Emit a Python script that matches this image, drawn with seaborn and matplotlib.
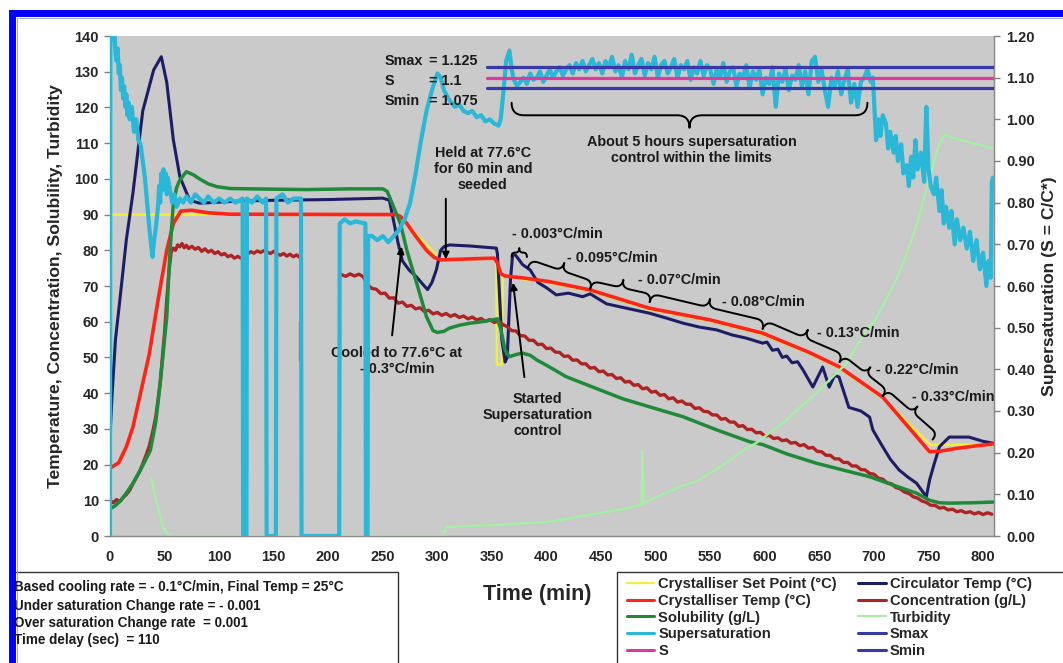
import numpy as np
import pandas as pd
import matplotlib
matplotlib.use("Agg")
import matplotlib.pyplot as plt
import seaborn as sns
from matplotlib.patches import Rectangle
from matplotlib.lines import Line2D

sns.set_style("white")
plt.rcParams['font.family'] = ['Liberation Sans', 'DejaVu Sans']
plt.rcParams['font.weight'] = 'bold'
plt.rcParams['axes.labelweight'] = 'bold'

# ---------------- data (time in min, value) ----------------
setpoint = [(0, 90), (262, 90), (266, 89), (303, 77.6), (354, 77.6), (354.5, 48), (359, 48), (360, 73),
            (380, 71.8), (403, 70.9), (440, 68.6), (494, 63.5), (550, 60.2), (598, 56.5), (640, 51.2),
            (668, 47.1), (708, 38.6), (752, 25.5), (810, 25.5)]

circulator = [(0, 28), (2, 40), (5, 55), (9, 66), (15, 83), (21, 96), (30, 119), (40, 130.5), (47, 134.2),
              (52, 127), (58, 111), (64, 100.6), (73, 94), (82, 93.2), (120, 93.8), (150, 94), (200, 94.2),
              (250, 94.6), (256, 94), (260, 88), (264, 82), (268, 77), (274, 74.5), (281, 72.5), (288, 70),
              (291, 69), (295, 71), (299, 74.5), (303, 80), (306, 81), (311, 81.5), (330, 81.2), (354, 80.6),
              (355, 79), (359, 55), (362, 48.7), (364, 50), (367, 72), (369, 79), (372, 78.5), (378, 76),
              (385, 74.5), (392, 71), (400, 69.5), (409, 67.5), (420, 68), (433, 67), (440, 67.8), (455, 65),
              (470, 64), (494, 62.4), (510, 61), (525, 59.6), (540, 58.5), (556, 57.7), (570, 56.3),
              (583, 55.4), (598, 54), (602, 54.3), (607, 52), (612, 52.3), (616, 50), (620, 50.4),
              (625, 48.5), (630, 48.8), (635, 46.5), (644, 41.7), (653, 47.3), (659, 41.7), (664, 45),
              (668, 44.5), (677, 36), (688, 35), (696, 33.3), (699, 29.7), (708, 25), (715, 21.5),
              (723, 18.5), (731, 16.5), (739, 14.8), (748, 11), (751, 15.7), (755, 20), (760, 25),
              (769, 27.7), (787, 27.7), (800, 26.5), (809, 26)]

cryst_temp = [(0, 19), (8, 20.5), (15, 25), (21, 30.5), (28, 40), (36, 51), (44, 66), (52, 80), (58, 87.5),
              (65, 91), (75, 91.2), (90, 90.5), (110, 90.1), (262, 90), (266, 89.5), (272, 87.5),
              (280, 84), (290, 80), (297, 78), (303, 77.3), (310, 77.4), (330, 77.6), (352, 77.8),
              (355, 76.5), (358, 73.5), (362, 72.8), (380, 72.2), (403, 71.2), (440, 68.9), (494, 63.8),
              (550, 60.5), (598, 56.8), (640, 51.5), (668, 47.4), (708, 38.9), (751, 23.6), (760, 23.7),
              (775, 24.5), (795, 25.3), (810, 25.8)]

conc_a = [(0, 10), (3, 9.3), (6, 10.2), (9, 9.6), (12, 10.8), (15, 11.6), (18, 12.8), (21, 14.6), (24, 16.3),
          (27, 18.0), (30, 20.2), (33, 22.6), (36, 25.2), (39, 29), (42, 33.5), (44, 38), (46, 43), (48, 50),
          (50, 57), (52, 66), (54, 74), (56, 79.5), (58, 80.6), (60, 80.0), (62, 81.5), (64, 81.0),
          (66, 81.9), (68, 80.7), (70, 81.4), (72, 80.5), (75, 81.1), (78, 80.3), (81, 80.8), (84, 79.7),
          (87, 80.4), (90, 79.5), (93, 80.0), (96, 79.1), (99, 79.6), (102, 78.7), (105, 79.1), (108, 78.2),
          (111, 78.6), (114, 77.8), (117, 78.3), (120, 77.8), (123, 78.4), (126, 79.0), (129, 79.6),
          (132, 79.2), (135, 79.8), (138, 79.4), (141, 79.9), (144, 79.5), (147, 79.1), (150, 79.7),
          (153, 79.0), (156, 78.6), (159, 79.1), (162, 78.4), (165, 78.9), (168, 78.2), (171, 78.7),
          (174, 78.0)]
conc_b1 = [(174.5, 60), (174.5, 49)]
conc_b2 = [(211, 49), (211, 60)]
conc_c_start, conc_c_step = 212, 4
conc_c = [73.2, 72.7, 73.4, 72.8, 73.3, 72.6, 70.4, 69.3, 69.1, 67.9, 68.0, 66.6, 66.7, 65.2, 65.5, 64.3,
          64.6, 63.6, 63.9, 62.9, 63.2, 62.2, 62.6, 61.8, 62.3, 61.5, 62.0, 61.2, 61.6, 60.8, 61.3, 60.5,
          60.9, 60.1, 60.6, 59.8, 60.2, 59.2, 58.6, 57.5, 57.4, 56.1, 56.0, 54.8, 54.8, 53.6, 53.7, 52.5,
          52.6, 51.5, 51.4, 50.3, 50.4, 49.2, 49.3, 48.2, 48.2, 47.0, 47.2, 46.0, 46.2, 45.1, 45.2, 44.1,
          44.3, 43.1, 43.3, 42.2, 42.4, 41.2, 41.5, 40.3, 40.5, 39.4, 39.6, 38.4, 38.7, 37.5, 37.8, 36.9,
          36.9, 35.7, 35.9, 34.9, 34.8, 33.9, 33.9, 32.7, 32.9, 31.9, 31.9, 30.7, 30.9, 29.8, 29.9, 28.9,
          29.0, 28.0, 28.2, 27.3, 27.5, 26.7, 26.9, 26.0, 26.2, 25.3, 25.6, 24.6, 24.8, 23.7, 23.6, 22.6,
          22.6, 21.6, 21.6, 20.6, 20.6, 19.6, 19.6, 18.6, 18.5, 17.5, 17.3, 16.2, 15.9, 14.9, 14.6, 13.6,
          13.2, 12.3, 11.9, 11.0, 10.6, 9.8, 9.4, 8.6, 8.6, 7.8, 8.0, 7.3, 7.5, 6.8, 7.1, 6.5, 6.8, 6.2,
          6.6, 6.0, 6.5, 6.1]

solubility = [(0, 7.6), (5, 8.5), (10, 10), (15, 12), (21, 14.8), (28, 18.5), (37, 24), (42, 32),
              (46, 42.8), (49, 52), (52, 61.3), (55, 80), (58, 93), (61, 97.5), (64, 99.7), (70, 102),
              (76, 101.2), (82, 100), (90, 98.6), (98, 97.8), (110, 97.3), (128, 97.2), (180, 97.0),
              (220, 97.2), (250, 97.2), (254, 96.5), (260, 92), (266, 87.6), (272, 80), (281, 70.8),
              (290, 61.4), (296, 57.5), (300, 57.0), (306, 57.3), (311, 58.2), (320, 59), (330, 59.6),
              (341, 60), (350, 60.5), (355, 60.8), (358, 58), (362, 52), (366, 50.2), (372, 50.8),
              (378, 51.2), (385, 50.6), (391, 49.3), (400, 47.8), (418, 44.6), (449, 40.9), (470, 38.4),
              (494, 36.2), (525, 33.4), (556, 29.7), (586, 26.4), (598, 25.6), (620, 23), (647, 20.4),
              (670, 18.6), (696, 16.6), (720, 14), (739, 12), (751, 10), (760, 9.3), (769, 9.2),
              (790, 9.3), (809, 9.5)]

turbidity = [(38, 16), (40, 13), (44, 8), (48, 3), (52, 0.8), (56, 0), (305, 0), (308, 2.5), (330, 2.8),
             (360, 3.2), (403, 4), (440, 6), (470, 7.5), (487, 8.8), (488, 24), (489, 9), (494, 10),
             (520, 13.5), (540, 15.7), (560, 19.5), (583, 24.5), (592, 26), (620, 32.5), (650, 40.9),
             (675, 48.4), (693, 57.7), (700, 60), (710, 65.5), (720, 71.5), (730, 79), (740, 88),
             (748, 97), (755, 105), (760, 110), (765, 112.3), (785, 110.4), (809, 108.6)]

# supersaturation (right axis)
supersat_a = [(0, 0), (0.4, 1.28), (2, 1.24), (3, 1.19), (4, 1.22), (5, 1.16), (6, 1.14), (7, 1.17),
              (8, 1.11), (9, 1.13), (10, 1.07), (11, 1.10), (12, 1.05), (13, 1.08), (14, 1.03), (15, 1.06),
              (16, 1.01), (17, 1.04), (18, 1.00), (20, 1.03), (22, 0.97), (24, 1.00), (26, 0.95),
              (28, 0.94), (30, 0.90), (32, 0.86), (34, 0.80), (36, 0.74), (38, 0.69), (39, 0.67),
              (40, 0.70), (42, 0.74), (44, 0.79), (45, 0.84), (46, 0.80), (47, 0.87), (48, 0.83),
              (49, 0.88), (50, 0.85), (51, 0.87), (52, 0.82), (53, 0.86), (55, 0.83), (57, 0.80),
              (59, 0.82), (61, 0.79), (64, 0.81), (67, 0.80), (70, 0.815), (74, 0.80), (78, 0.82),
              (82, 0.81), (86, 0.80), (90, 0.815), (95, 0.80), (100, 0.81), (105, 0.80), (110, 0.81),
              (115, 0.80), (121.5, 0.81), (122, 0), (125, 0), (125.5, 0.81), (130, 0.80), (135, 0.815),
              (140, 0.80), (143, 0.81), (143.5, 0), (152, 0), (152.5, 0.81), (158, 0.82), (163, 0.80),
              (168, 0.81), (175, 0.81), (175.5, 0), (210, 0), (210.5, 0.75), (215, 0.76), (220, 0.75),
              (225, 0.755), (234, 0.75), (234.5, 0), (236, 0), (236.5, 0.72), (240, 0.72), (245, 0.71),
              (250, 0.72), (255, 0.705), (260, 0.72), (265, 0.735), (270, 0.76), (275, 0.80), (280, 0.87),
              (285, 0.95), (290, 1.02), (295, 1.07), (300, 1.11), (303, 1.10), (306, 1.07), (310, 1.05),
              (313, 1.04), (316, 1.03), (320, 1.035), (324, 1.02), (328, 1.015), (332, 1.02),
              (336, 1.005), (340, 1.01), (344, 0.995), (348, 1.0), (352, 0.99), (356, 0.985),
              (358, 1.0), (361, 1.08), (363, 1.14), (366, 1.165), (368, 1.12), (370, 1.095), (373, 1.08)]
supersat_b_start, supersat_b_step = 376, 3
supersat_b = [1.09, 1.10, 1.085, 1.11, 1.095, 1.10, 1.115, 1.09, 1.105, 1.12, 1.10, 1.115, 1.125, 1.105, 1.12,
              1.13, 1.11, 1.135, 1.12, 1.14, 1.115, 1.13, 1.145, 1.12, 1.135, 1.11, 1.14, 1.125, 1.15, 1.115,
              1.13, 1.10, 1.14, 1.12, 1.155, 1.11, 1.13, 1.145, 1.105, 1.135, 1.12, 1.15, 1.10, 1.13, 1.14,
              1.11, 1.125, 1.145, 1.10, 1.13, 1.12, 1.14, 1.095, 1.125, 1.11, 1.14, 1.105, 1.13, 1.12, 1.085,
              1.12, 1.10, 1.135, 1.09, 1.115, 1.125, 1.08, 1.11, 1.10, 1.13, 1.075, 1.115, 1.095, 1.12, 1.06,
              1.10, 1.085, 1.125, 1.03, 1.11, 1.09, 1.12, 1.07, 1.105, 1.095, 1.13, 1.08, 1.115, 1.06, 1.14,
              1.15, 1.09, 1.12, 1.07, 1.03, 1.10, 1.08, 1.115, 1.06, 1.095, 1.12, 1.04, 1.085, 1.03, 1.09,
              1.10, 1.12, 1.09]
supersat_c = [(699, 1.10), (700, 1.05), (702, 0.95), (704, 1.0), (706, 0.96), (708, 1.01), (711, 0.99),
              (713, 0.93), (715, 0.97), (718, 0.92), (720, 0.96), (722, 0.90), (725, 0.94), (727, 0.87),
              (730, 0.89), (732, 0.84), (734, 0.91), (736, 0.86), (738, 0.95), (740, 0.88), (743, 0.92),
              (746, 0.85), (748, 1.03), (750, 0.88), (752, 0.84), (755, 0.82), (757, 0.86), (760, 0.78),
              (762, 0.83), (764, 0.75), (766, 0.79), (769, 0.74), (771, 0.78), (774, 0.70), (776, 0.76),
              (779, 0.71), (782, 0.74), (785, 0.69), (788, 0.73), (791, 0.66), (794, 0.71), (797, 0.64),
              (800, 0.68), (803, 0.60), (805, 0.66), (807, 0.62), (808, 0.85), (809, 0.86)]

limit_t = [345, 810]
smax_v = [1.125, 1.125]
s_v = [1.1, 1.1]
smin_v = [1.075, 1.075]

x_ticks = list(range(0, 801, 50))
y_ticks = list(range(0, 141, 10))
y2_ticks = [0.0, 0.1, 0.2, 0.3, 0.4, 0.5, 0.6, 0.7, 0.8, 0.9, 1.0, 1.1, 1.2]

labels = ["Crystalliser Set Point (°C)", "Circulator Temp (°C)", "Crystalliser Temp (°C)",
          "Concentration (g/L)", "Solubility (g/L)", "Turbidity", "Supersaturation", "Smax", "S", "Smin"]
colors = {"sp": "#F4F03A", "circ": "#1D1D66", "ct": "#FF2418", "conc": "#AE2323", "sol": "#1E8A3A",
          "turb": "#A6EFA6", "ss": "#2BB8D8", "lim": "#3838A8", "s": "#E0389E"}

# ---------------- figure ----------------
W, H = 1063, 663
fig = plt.figure(figsize=(W / 100, H / 100), dpi=100)
fig.patch.set_facecolor("white")


def fx(x):
    return x / W


def fy(y):
    return 1 - y / H


ax = fig.add_axes([fx(110), fy(536), (994 - 110) / W, (536 - 36) / H])
ax.set_facecolor("#CACACA")


def draw(a, pts, color, lw, z=2):
    df = pd.DataFrame(pts, columns=["t", "v"])
    sns.lineplot(data=df, x="t", y="v", ax=a, color=color, linewidth=lw, estimator=None,
                 sort=False, legend=False, zorder=z)


draw(ax, setpoint, colors["sp"], 1.8)
draw(ax, circulator, colors["circ"], 2.2)
draw(ax, cryst_temp, colors["ct"], 2.6)
draw(ax, conc_a, colors["conc"], 2.4)
draw(ax, conc_b1, colors["conc"], 1.6)
draw(ax, conc_b2, colors["conc"], 1.6)
conc_c_pts = [(conc_c_start + conc_c_step * i, v) for i, v in enumerate(conc_c)]
draw(ax, conc_c_pts, colors["conc"], 2.4)
draw(ax, solubility, colors["sol"], 2.5)
draw(ax, turbidity, colors["turb"], 1.7)

ax.set_xlim(0, 810)
ax.set_ylim(0, 140)
ax.set_xticks(x_ticks)
ax.set_yticks(y_ticks)
ax.tick_params(axis="both", labelsize=10.5, length=4, width=1, color="#808080", direction="out",
               pad=4)
ax.tick_params(axis="x", pad=6)
for lab in ax.get_xticklabels() + ax.get_yticklabels():
    lab.set_fontweight("bold")
ax.spines["top"].set_visible(False)
for side in ["left", "bottom", "right"]:
    ax.spines[side].set_color("#8A8A8A")
    ax.spines[side].set_linewidth(1)
ax.set_xlabel("Time (min)", fontsize=15.5, fontweight="bold")
ax.set_ylabel("Temperature, Concentration, Solubility, Turbidity", fontsize=12.6, fontweight="bold")
ax.xaxis.set_label_coords((537 - 110) / 884, (536 - 584) / 500)
ax.yaxis.set_label_coords((63 - 110) / 884, 0.5)

ax2 = ax.twinx()
draw(ax2, supersat_a, colors["ss"], 3.0)
ss_b_pts = [(supersat_b_start + supersat_b_step * i, v) for i, v in enumerate(supersat_b)]
draw(ax2, [supersat_a[-1]] + ss_b_pts + [supersat_c[0]], colors["ss"], 3.0)
draw(ax2, supersat_c, colors["ss"], 3.0)
draw(ax2, list(zip(limit_t, smax_v)), colors["lim"], 2.3)
draw(ax2, list(zip(limit_t, s_v)), colors["s"], 2.3)
draw(ax2, list(zip(limit_t, smin_v)), colors["lim"], 2.3)
ax2.set_ylim(0, 1.2)
ax2.set_yticks(y2_ticks)
ax2.set_yticklabels([f"{v:.2f}" for v in y2_ticks])
ax2.tick_params(axis="y", labelsize=10.5, length=4, width=1, color="#808080", direction="out", pad=5)
for lab in ax2.get_yticklabels():
    lab.set_fontweight("bold")
for side in ["top", "left", "bottom"]:
    ax2.spines[side].set_visible(False)
ax2.spines["right"].set_color("#8A8A8A")
ax2.set_xlabel("")
ax2.set_ylabel("Supersaturation (S = C/C*)", fontsize=12.6, fontweight="bold")
ax2.yaxis.set_label_coords((1042 - 110) / 884, 0.5)
ax2.set_xlim(0, 810)

# ---------------- braces ----------------
fig.canvas.draw()


def brace(a, p1, p2, h, color="black", lw=1.4):
    P1 = a.transData.transform(p1)
    P2 = a.transData.transform(p2)
    d = P2 - P1
    L = np.hypot(*d)
    u = d / L
    n = np.array([-u[1], u[0]])
    r = min(abs(h) / 2, L / 4)
    hh = h / 2

    def quad(a0, c, b, m=12):
        s = np.linspace(0, 1, m)[:, None]
        return (1 - s) ** 2 * a0 + 2 * (1 - s) * s * c + s ** 2 * b

    A = np.array
    pts = np.vstack([
        quad(A([0, 0]), A([0, hh]), A([r, hh])),
        quad(A([L / 2 - r, hh]), A([L / 2, hh]), A([L / 2, h])),
        quad(A([L / 2, h]), A([L / 2, hh]), A([L / 2 + r, hh])),
        quad(A([L - r, hh]), A([L, hh]), A([L, 0])),
    ])
    disp = P1 + pts[:, :1] * u + pts[:, 1:] * n
    dat = a.transData.inverted().transform(disp)
    a.plot(dat[:, 0], dat[:, 1], color=color, lw=lw, solid_capstyle="round", zorder=4, clip_on=False)


brace(ax, (368, 121.3), (694, 121.3), -25)
brace(ax, (368, 78.1), (382, 78.1), 9)
brace(ax, (383, 75.2), (440, 69.2), 16)
brace(ax, (440, 69.2), (494.5, 65.5), 16)
brace(ax, (494.5, 65.5), (598, 58.0), 17)
brace(ax, (598, 58.0), (668.5, 48.7), 17)
brace(ax, (668.5, 48.7), (708, 39.2), 15)
brace(ax, (708, 39.2), (753.7, 27.0), 15)

# ---------------- annotations ----------------
tk = dict(fontsize=10.4, fontweight="bold", color="#1a1a1a")
ax.text(533, 108, "About 5 hours supersaturation\ncontrol within the limits", ha="center", va="center",
        linespacing=1.2, **tk)
for yy, lab, val in [(61, "Smax", "= 1.125"), (81, "S", "= 1.1"), (101, "Smin", "= 1.075")]:
    fig.text(fx(385), fy(yy), lab, ha="left", va="center", **tk)
    fig.text(fx(429), fy(yy), val, ha="left", va="center", **tk)
ax.text(341.6, 102.8, "Held at 77.6°C\nfor 60 min and\nseeded", ha="center", va="center",
        linespacing=1.2, **tk)
ax.annotate("", xy=(307.7, 76.7), xytext=(307.7, 95.2),
            arrowprops=dict(arrowstyle="-|>", color="black", lw=1.4, mutation_scale=10))
ax.text(262.8, 49.1, "Cooled to 77.6°C at\n- 0.3°C/min", ha="center", va="center", linespacing=1.2, **tk)
ax.annotate("", xy=(267.4, 81.8), xytext=(258.2, 55.4),
            arrowprops=dict(arrowstyle="-|>", color="black", lw=1.4, mutation_scale=10))
ax.text(392, 33.9, "Started\nSupersaturation\ncontrol", ha="center", va="center", linespacing=1.2, **tk)
ax.annotate("", xy=(369, 71.7), xytext=(380, 43.7),
            arrowprops=dict(arrowstyle="-|>", color="black", lw=1.4, mutation_scale=10))
for t0, v0, s in [(368, 84.6, "- 0.003°C/min"), (418.5, 77.8, "- 0.095°C/min"), (483.5, 71.7, "- 0.07°C/min"),
                  (561, 65.5, "- 0.08°C/min"), (648, 56.8, "- 0.13°C/min"), (702, 46.5, "- 0.22°C/min"),
                  (735, 38.9, "- 0.33°C/min")]:
    ax.text(t0, v0, s, ha="left", va="center", **tk)

# ---------------- legend ----------------
handles = {
    labels[0]: Line2D([], [], color=colors["sp"], lw=1.6),
    labels[1]: Line2D([], [], color=colors["circ"], lw=2.2),
    labels[2]: Line2D([], [], color=colors["ct"], lw=2.2),
    labels[3]: Line2D([], [], color=colors["conc"], lw=2.2),
    labels[4]: Line2D([], [], color=colors["sol"], lw=2.2),
    labels[5]: Line2D([], [], color=colors["turb"], lw=1.6),
    labels[6]: Line2D([], [], color=colors["ss"], lw=2.2),
    labels[7]: Line2D([], [], color=colors["lim"], lw=2.2),
    labels[8]: Line2D([], [], color=colors["s"], lw=2.2),
    labels[9]: Line2D([], [], color=colors["lim"], lw=2.2),
}
order = [labels[i] for i in [0, 2, 4, 6, 8, 1, 3, 5, 7, 9]]
leg = fig.legend([handles[k] for k in order], order, ncol=2, loc="upper left",
                 bbox_to_anchor=(fx(627), fy(577)), frameon=False, fontsize=10.6,
                 handlelength=1.85, handletextpad=0.28, labelspacing=0.19, columnspacing=1.45,
                 borderaxespad=0, borderpad=0)
for t in leg.get_texts():
    t.set_fontweight("bold")
fig.patches.append(Rectangle((fx(617), fy(700)), fx(500), (700 - 572) / H, transform=fig.transFigure,
                             facecolor="none", edgecolor="#333333", lw=1))

# ---------------- settings box ----------------
fig.patches.append(Rectangle((fx(12), fy(700)), fx(398 - 12), (700 - 572) / H, transform=fig.transFigure,
                             facecolor="none", edgecolor="#333333", lw=1))
for yy, s in [(587, "Based cooling rate = - 0.1°C/min, Final Temp = 25°C"),
              (606, "Under saturation Change rate = - 0.001"),
              (623, "Over saturation Change rate  = 0.001"),
              (640, "Time delay (sec)  = 110")]:
    fig.text(fx(14), fy(yy), s, ha="left", va="center", fontsize=9.75, fontweight="bold", color="#1a1a1a")

# ---------------- frame ----------------
fig.patches.append(Rectangle((fx(16.5), fy(700)), fx(1100), (700 - 17.5) / H, transform=fig.transFigure,
                             facecolor="none", edgecolor="#B0B0B0", lw=0.8))
fig.patches.append(Rectangle((fx(11.5), fy(700)), fx(1100), (700 - 13) / H, transform=fig.transFigure,
                             facecolor="none", edgecolor="#0000FF", lw=5))

fig.savefig("out.png", dpi=100)
